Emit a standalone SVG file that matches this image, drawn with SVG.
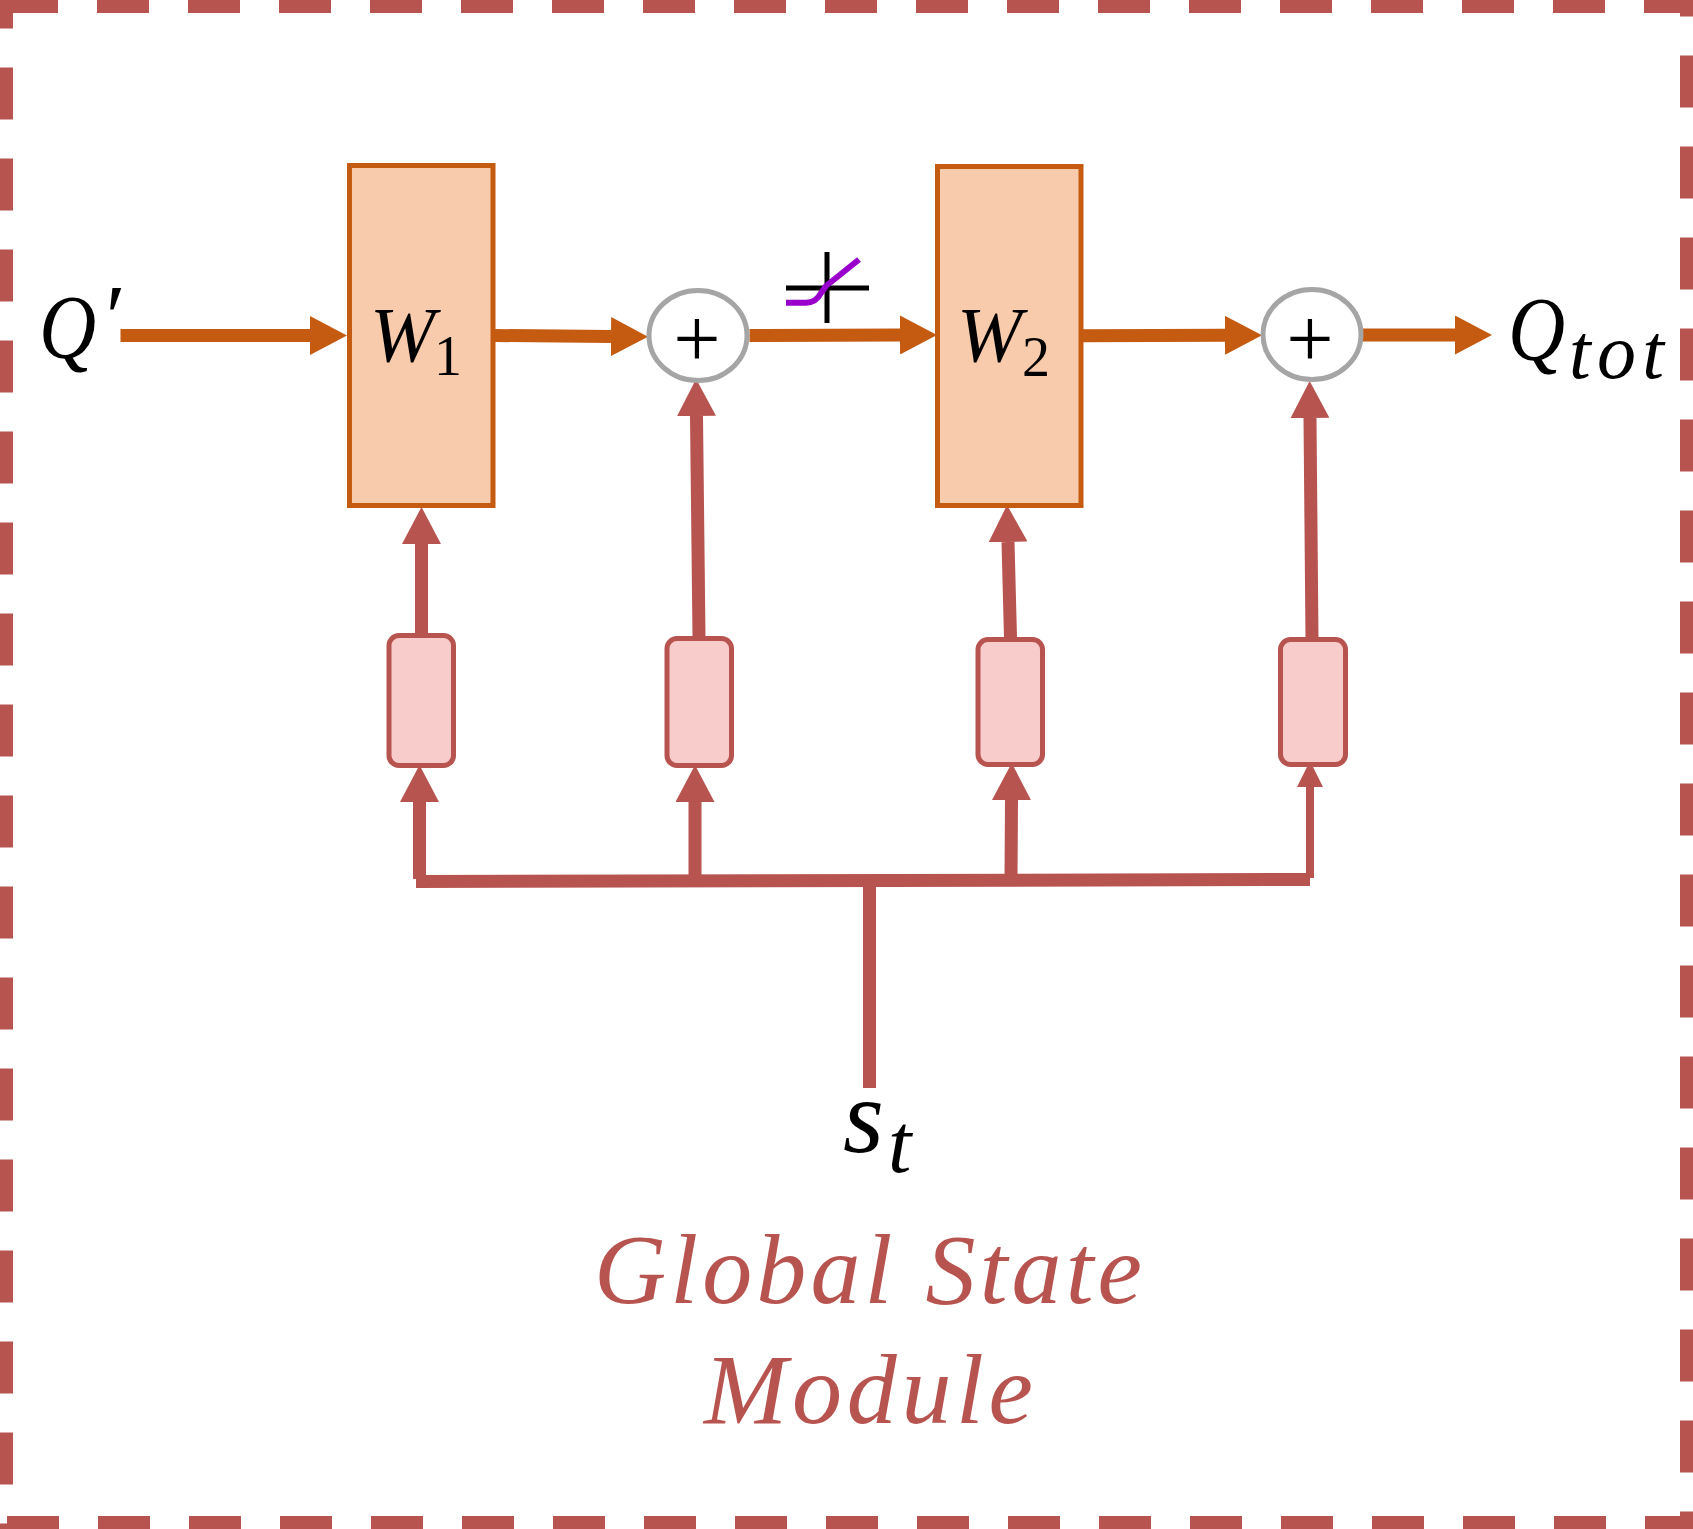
<svg xmlns="http://www.w3.org/2000/svg" width="1693" height="1529" viewBox="0 0 1693 1529">
  <style>
    .frame { fill: none; stroke: #b85450; stroke-width: 13; stroke-dasharray: 52 39; }
    .weight { fill: #f8cbad; stroke: #c55a11; stroke-width: 5; }
    .encoder { fill: #f9cccc; stroke: #b85450; stroke-width: 5; }
    .adder { fill: #ffffff; stroke: #a5a5a5; stroke-width: 5; }
    .flow { fill: none; stroke: #c55a11; stroke-width: 13; }
    .state { fill: none; stroke: #b85450; stroke-width: 13; }
    text { font-family: "Liberation Serif", "Times New Roman", serif; }
    .math { font-style: italic; fill: #000000; }
    .digit { fill: #000000; }
    .plus { font-size: 84px; text-anchor: middle; fill: #000000; }
    .title { font-style: italic; font-size: 100px; fill: #b85450; }
  </style>
  <defs>
    <marker id="head-flow" markerUnits="userSpaceOnUse" viewBox="0 0 37 39" markerWidth="37" markerHeight="39" refX="0" refY="19.5" orient="auto">
      <path d="M0 0L37 19.5L0 39z" fill="#c55a11"/>
    </marker>
    <marker id="head-state" markerUnits="userSpaceOnUse" viewBox="0 0 37 39" markerWidth="37" markerHeight="39" refX="0" refY="19.5" orient="auto">
      <path d="M0 0L37 19.5L0 39z" fill="#b85450"/>
    </marker>
    <marker id="head-state-small" markerUnits="userSpaceOnUse" viewBox="0 0 26 26" markerWidth="26" markerHeight="26" refX="0" refY="13" orient="auto">
      <path d="M0 0L26 13L0 26z" fill="#b85450"/>
    </marker>
  </defs>

  <rect width="1693" height="1529" fill="#ffffff"/>

  <g id="frame">
    <path class="frame" d="M6 6.500H1693"/>
    <path class="frame" d="M7 1522.500H1693"/>
    <path class="frame" d="M6.500 -23.500V1529"/>
    <path class="frame" d="M1686.500 -35.500V1529"/>
  </g>

  <g id="connectors">
    <path class="flow" d="M120.500 335.500H310" marker-end="url(#head-flow)"/>
    <path class="flow" d="M495 335.500L611 336.500" marker-end="url(#head-flow)"/>
    <path class="flow" d="M749.500 335.500L900 335" marker-end="url(#head-flow)"/>
    <path class="flow" d="M1083 335.700L1225 335.300" marker-end="url(#head-flow)"/>
    <path class="flow" d="M1362 335H1455" marker-end="url(#head-flow)"/>

    <path class="state" d="M421.500 634V544" marker-end="url(#head-state)"/>
    <path class="state" d="M699 637L696.500 416" marker-end="url(#head-state)"/>
    <path class="state" d="M1010.500 638L1008 542" marker-end="url(#head-state)"/>
    <path class="state" d="M1312 638L1310 418" marker-end="url(#head-state)"/>

    <path class="state" d="M419.500 879V802" marker-end="url(#head-state)"/>
    <path class="state" d="M695 878V802" marker-end="url(#head-state)"/>
    <path class="state" d="M1011 878L1011.500 800" marker-end="url(#head-state)"/>
    <path class="state" style="stroke-width:8" d="M1310 878V787" marker-end="url(#head-state-small)"/>

    <path d="M416 875L1310 873V886L416 888z" fill="#b85450"/>
    <path class="state" d="M869.500 880V1088"/>
  </g>

  <g id="w1">
    <rect class="weight" x="349.500" y="165.500" width="143.500" height="340"/>
    <text class="math" x="370" y="361" font-size="78">W</text>
    <text class="digit" x="434" y="375" font-size="56">1</text>
  </g>
  <g id="w2">
    <rect class="weight" x="937.500" y="166.500" width="143.500" height="339"/>
    <text class="math" x="957" y="361" font-size="78">W</text>
    <text class="digit" x="1022" y="376" font-size="56">2</text>
  </g>

  <g id="adder1">
    <ellipse class="adder" cx="698" cy="335.500" rx="49" ry="45"/>
    <text class="plus" x="697" y="367">+</text>
  </g>
  <g id="adder2">
    <ellipse class="adder" cx="1312" cy="334.500" rx="49" ry="45"/>
    <text class="plus" x="1310" y="367">+</text>
  </g>

  <g id="encoder1"><rect class="encoder" x="389" y="635.500" width="64.500" height="130" rx="10"/></g>
  <g id="encoder2"><rect class="encoder" x="667" y="638.500" width="64.500" height="127" rx="10"/></g>
  <g id="encoder3"><rect class="encoder" x="978" y="639.500" width="64.500" height="125" rx="10"/></g>
  <g id="encoder4"><rect class="encoder" x="1280.500" y="639.500" width="65" height="125" rx="10"/></g>

  <g id="activation">
    <path d="M827 252V323M786 288H869" fill="none" stroke="#000000" stroke-width="5"/>
    <path d="M786 302.700H806Q816 302.700 821 293L826 286L859 259.500" fill="none" stroke="#9900cc" stroke-width="6"/>
  </g>

  <g id="label-q-prime">
    <text class="math" transform="translate(39 358) scale(0.86 1)" font-size="92">Q</text>
    <text class="math" x="100" y="347.500" font-size="92">′</text>
  </g>
  <g id="label-q-tot">
    <text class="math" transform="translate(1508 360) scale(0.86 1)" font-size="92">Q</text>
    <text class="math" x="1569" y="378" font-size="78" textLength="95" lengthAdjust="spacing">tot</text>
  </g>
  <g id="label-state">
    <text class="math" x="843" y="1152" font-size="105">s</text>
    <text class="math" x="888" y="1172" font-size="84">t</text>
  </g>
  <g id="label-module">
    <text class="title" x="594" y="1303" textLength="548" lengthAdjust="spacing">Global State</text>
    <text class="title" x="704" y="1423" textLength="329" lengthAdjust="spacing">Module</text>
  </g>
</svg>
